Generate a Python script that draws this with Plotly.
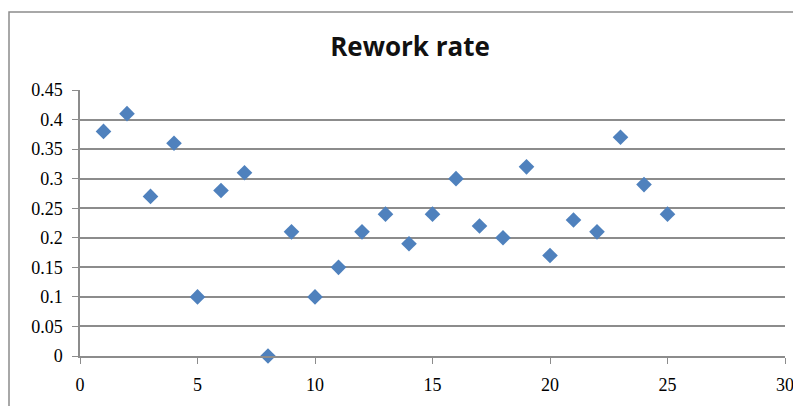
import plotly.graph_objects as go

x_vals = list(range(1, 26))
rework = [0.38, 0.41, 0.27, 0.36, 0.10, 0.28, 0.31, 0.00, 0.21, 0.10,
          0.15, 0.21, 0.24, 0.19, 0.24, 0.30, 0.22, 0.20, 0.32, 0.17,
          0.23, 0.21, 0.37, 0.29, 0.24]
y_ticks = [0, 0.05, 0.1, 0.15, 0.2, 0.25, 0.3, 0.35, 0.4, 0.45]
y_labels = ["0", "0.05", "0.1", "0.15", "0.2", "0.25", "0.3", "0.35", "0.4", "0.45"]
x_ticks = [0, 5, 10, 15, 20, 25, 30]

# page has 8px body margin, so the figure is drawn slightly smaller
W, H = 793, 398
L, R, T, B = 72, 16, 82, 50
pw, ph = W - L - R, H - T - B
serif = "Liberation Serif"

fig = go.Figure()
fig.add_trace(go.Scatter(
    x=x_vals, y=rework, mode="markers",
    marker=dict(symbol="diamond", size=12, color="#4F81BD",
                line=dict(width=0)),
    cliponaxis=False, showlegend=False))

fig.update_layout(
    width=W, height=H,
    margin=dict(l=L, r=R, t=T, b=B, autoexpand=False),
    paper_bgcolor="white", plot_bgcolor="white",
    font=dict(family=serif, size=18, color="#000000"),
    title=dict(text="<b>Rework rate</b>", x=(402 - L) / pw, xref="paper",
               xanchor="center", y=1 - 39 / H, yanchor="middle",
               automargin=False,
               font=dict(family="Open Sans", size=26, color="#111111")),
    xaxis=dict(range=[0, 30], tickvals=x_ticks, showgrid=False,
               showline=True, linecolor="#8c8c8c", linewidth=1.5,
               ticks="outside", ticklen=6, tickcolor="#8c8c8c",
               zeroline=False, automargin=False, ticklabelstandoff=6,
               tickfont=dict(family=serif, size=18, color="#000")),
    yaxis=dict(range=[0, 0.45], tickvals=y_ticks, ticktext=y_labels,
               showgrid=True, gridcolor="#8c8c8c", gridwidth=1.5,
               showline=True, linecolor="#8c8c8c", linewidth=1.5,
               ticks="outside", ticklen=6, tickcolor="#8c8c8c",
               zeroline=False, automargin=False, ticklabelstandoff=6,
               tickfont=dict(family=serif, size=18, color="#000")),
)

# outer chart frame
fig.add_shape(type="rect", xref="paper", yref="paper",
              x0=(1 - L) / pw, x1=(W + 5 - L) / pw,
              y0=-(B + 10) / ph, y1=(H - 4 - B) / ph,
              line=dict(color="#8c8c8c", width=1.5), layer="below")

fig.write_html("out.html")
